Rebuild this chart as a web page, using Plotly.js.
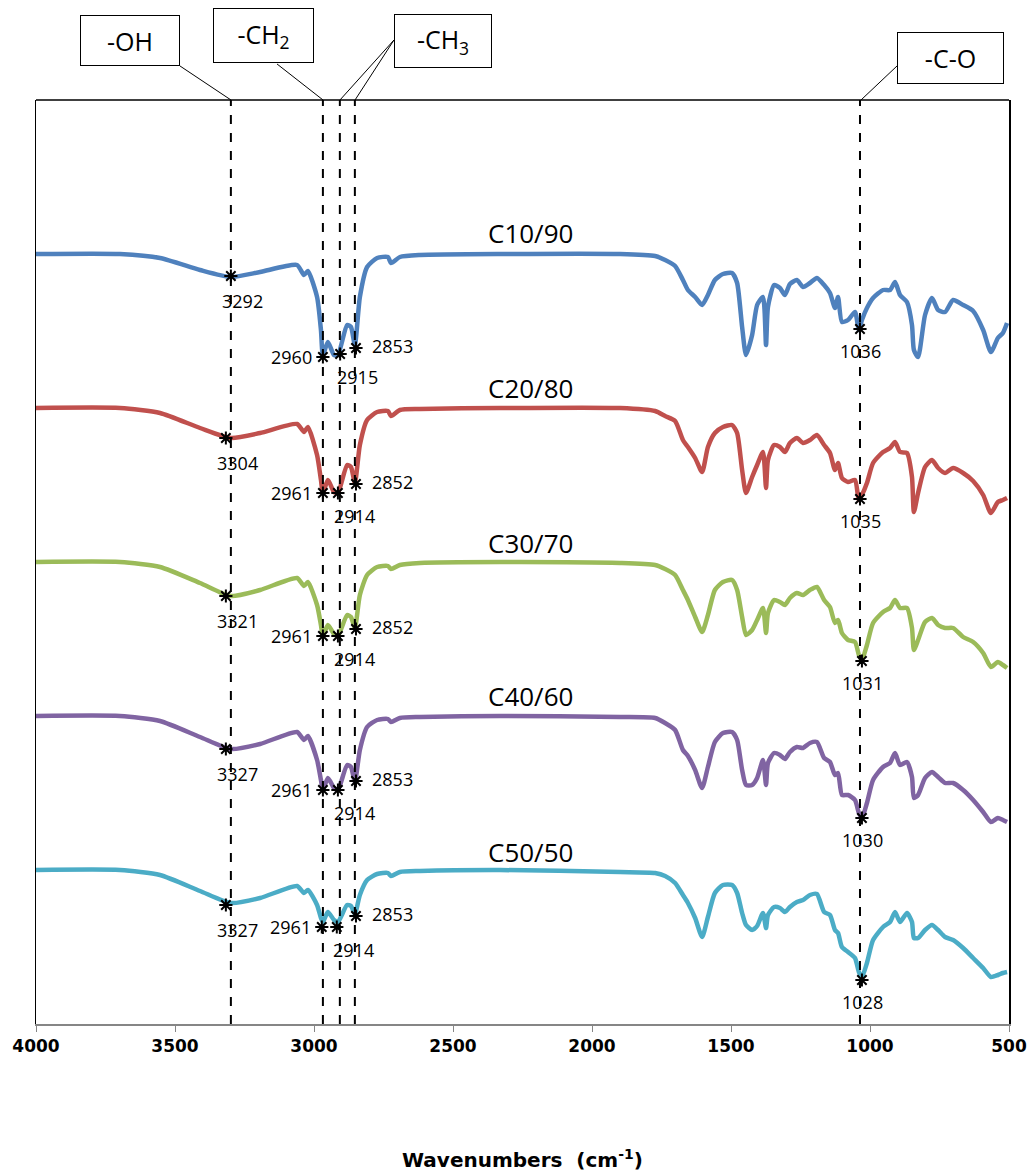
<!DOCTYPE html>
<html><head><meta charset="utf-8">
<script src="https://cdn.plot.ly/plotly-3.0.1.min.js"></script>
<style>html,body{margin:0;padding:0;background:#fff}</style>
</head><body><div id="chart" style="width:1035px;height:1176px"></div>
<script>
// Wavenumber grid (cm-1) shared by all spectra
const wavenumbers = [4000,3698,3554,3410,3299,3194,3061,3036,3022,2989,2975,2968,2950,2928,2914,2881,2867,2853,2835,2809,2773,2734,2723,2691,2619,2331,1899,1773,1737,1701,1673,1655,1629,1604,1583,1558,1529,1496,1478,1460,1446,1424,1406,1385,1374,1367,1345,1324,1306,1288,1263,1241,1216,1191,1165,1144,1126,1115,1101,1079,1054,1040,1029,1011,989,953,928,910,892,867,849,842,827,802,777,755,730,701,665,629,593,565,540,522,507];

// Offset transmittance (arbitrary units)
const c10_90 = [770,770,766,754,747,752,759,749,753,727,694,669,682,669,669,699,697,679,727,757,766,767,761,767,769,770,770,768,764,758,744,734,727,719,729,744,750,751,741,697,669,689,719,727,679,717,739,736,729,740,744,737,741,746,739,731,716,727,702,704,712,694,704,716,726,734,734,742,729,722,699,674,667,709,726,714,712,724,719,713,694,672,686,691,701];
const c20_80 = [616,616,611,596,586,591,600,592,597,569,544,531,544,532,531,559,557,541,579,604,612,613,608,614,615,616,616,613,608,603,584,577,566,552,577,591,597,599,591,554,531,547,559,572,536,564,579,577,572,581,586,581,584,589,579,571,554,561,546,542,544,524,529,541,561,572,576,582,572,571,547,512,531,557,564,556,551,556,551,543,529,511,522,524,526];
const c30_70 = [462,462,457,441,428,434,446,438,442,419,399,388,399,390,388,409,407,396,429,449,457,458,455,459,461,462,461,459,455,449,434,424,407,392,409,434,442,444,434,407,389,394,404,416,391,411,424,422,419,426,431,429,434,437,424,417,401,404,391,384,382,369,364,379,401,412,416,424,416,416,396,374,384,402,406,399,396,396,387,382,371,357,362,359,356];
const c40_60 = [308,308,303,287,275,280,292,284,288,264,244,234,246,236,234,259,257,242,274,297,304,305,302,306,307,308,307,306,301,294,274,268,254,236,257,282,291,292,284,254,239,239,246,264,239,261,271,269,265,272,277,276,281,282,266,262,249,251,229,229,224,211,206,221,244,257,261,271,259,262,247,226,229,246,252,247,241,241,234,224,212,202,206,204,202];
const c50_50 = [154,154,149,133,121,126,138,131,134,119,106,102,112,104,102,119,118,110,129,144,150,151,148,152,153,154,152,151,148,141,129,121,106,87,107,131,139,139,131,111,99,94,98,111,96,109,117,116,112,117,122,124,129,130,112,109,94,91,77,72,66,52,47,61,84,97,102,112,102,111,102,86,86,94,99,94,87,84,76,66,56,47,49,51,52];

const seriesNames = ["C10/90","C20/80","C30/70","C40/60","C50/50"];
const seriesColors = ["#4F81BD","#C0504D","#9BBB59","#8064A2","#4BACC6"];
const seriesLabelWn = 2223;
const seriesLabelY = [791,636,481,328,172];

// Marked peaks (position, value, printed label) per spectrum
const peakWn10 = [3299,2968,2906,2849,1036];
const peakY10  = [748,667,670,676,695];
const peakLab10 = ["3292","2960","2915","2853","1036"];
const peakWn20 = [3317,2968,2914,2849,1036];
const peakY20  = [586,531,531,540,525];
const peakLab20 = ["3304","2961","2914","2852","1035"];
const peakWn30 = [3317,2968,2914,2849,1029];
const peakY30  = [428,388,388,395,363];
const peakLab30 = ["3321","2961","2914","2852","1031"];
const peakWn40 = [3317,2968,2914,2849,1029];
const peakY40  = [275,234,234,243,206];
const peakLab40 = ["3327","2961","2914","2853","1030"];
const peakWn50 = [3317,2972,2918,2849,1029];
const peakY50  = [119,97,97,108,44];
const peakLab50 = ["3327","2961","2914","2853","1028"];

// Functional-group guide lines
const groupLineWn = [3299,2968,2907,2853,1036];
const groupNames = ["-OH","-CH<sub>2</sub>","-CH<sub>3</sub>","-C-O"];

const xTicks = [4000,3500,3000,2500,2000,1500,1000,500];

const spectra = [c10_90,c20_80,c30_70,c40_60,c50_50];
const peaksWn = [peakWn10,peakWn20,peakWn30,peakWn40,peakWn50];
const peaksY = [peakY10,peakY20,peakY30,peakY40,peakY50];
const peaksLab = [peakLab10,peakLab20,peakLab30,peakLab40,peakLab50];

const numFont = {family:"Open Sans, Noto Sans, sans-serif", size:18, color:"#000"};
const traces = [];
spectra.forEach((s,i)=>{
  traces.push({x:wavenumbers, y:s, type:"scatter", mode:"lines", name:seriesNames[i],
    line:{color:seriesColors[i], width:4.5, shape:"spline", smoothing:0.6}, hoverinfo:"skip"});
});
peaksWn.forEach((w,i)=>{
  traces.push({x:w, y:peaksY[i], type:"scatter", mode:"markers",
    marker:{symbol:"asterisk-open", size:11, color:"#000", line:{color:"#000", width:2}}, hoverinfo:"skip"});
});

const annotations = [];
seriesNames.forEach((n,i)=>{
  annotations.push({x:seriesLabelWn, y:seriesLabelY[i], xref:"x", yref:"y", text:n, showarrow:false,
    font:{family:"Open Sans, Noto Sans, sans-serif", size:26, color:"#000"}});
});
const labShift = [[12,-25,"center"],[-9,0,"right"],[17,-23,"center"],[14,2,"left"],[1,-22,"center"]];
peaksWn.forEach((w,i)=>{
  w.forEach((wn,j)=>{
    annotations.push({x:wn, y:peaksY[i][j], xref:"x", yref:"y", text:peaksLab[i][j], showarrow:false,
      xanchor:labShift[j][2], yanchor:"middle", xshift:labShift[j][0], yshift:labShift[j][1], font:numFont});
  });
});
const boxX = [0.0966,0.2338,0.4183,0.9399];
const boxY = [1.0644,1.0698,1.0638,1.0455];
const boxW = [98,99,96,105];
const boxH = [49,53,52,50];
groupNames.forEach((g,i)=>{
  annotations.push({x:boxX[i], y:boxY[i], xref:"paper", yref:"paper", text:g, showarrow:false,
    xanchor:"center", yanchor:"middle", width:boxW[i], height:boxH[i], bordercolor:"#000", borderwidth:1, borderpad:0,
    bgcolor:"#fff", font:{family:"Open Sans, Noto Sans, sans-serif", size:25, color:"#000"}});
});
annotations.push({x:0.5, y:-0.162, xref:"paper", yref:"paper", showarrow:false,
  text:"Wavenumbers  (cm<sup>-1</sup>)", font:{family:"DejaVu Sans, Verdana, sans-serif", size:20, color:"#000", weight:"bold"}});

const shapes = [];
groupLineWn.forEach(w=>{
  shapes.push({type:"line", xref:"x", yref:"paper", x0:w, x1:w, y0:0, y1:1, line:{color:"#000", width:2, dash:"dash"}});
});
shapes.push({type:"line", xref:"paper", yref:"paper", x0:0, x1:1, y0:1, y1:1, line:{color:"#000", width:1.5}});
const leaders = [[0.148,1.0368,0.2004,1.0],[0.2477,1.039,0.2950,1.0],[0.3679,1.0649,0.3124,1.0],[0.3679,1.0649,0.3279,1.0],[0.8849,1.0368,0.8479,1.0]];
leaders.forEach(l=>{
  shapes.push({type:"line", xref:"paper", yref:"paper", x0:l[0], y0:l[1], x1:l[2], y1:l[3], line:{color:"#000", width:1}});
});

const layout = {
  width:1035, height:1176,
  margin:{l:36, r:26, t:100, b:152},
  paper_bgcolor:"#fff", plot_bgcolor:"#fff",
  showlegend:false,
  xaxis:{range:[4000,500], tickvals:xTicks, ticktext:xTicks.map(String), ticks:"outside", ticklen:6, tickwidth:1,
    tickcolor:"#868686", showline:true, linecolor:"#868686", linewidth:2, showgrid:false, zeroline:false,
    tickfont:{family:"DejaVu Sans, Verdana, sans-serif", size:17, color:"#000", weight:"bold"}},
  yaxis:{range:[0,924], showticklabels:false, ticks:"", showgrid:false, zeroline:false,
    showline:true, linecolor:"#000", linewidth:1.5, mirror:true},
  annotations:annotations, shapes:shapes
};
Plotly.newPlot("chart", traces, layout, {staticPlot:true, displayModeBar:false});
</script>
</body></html>
